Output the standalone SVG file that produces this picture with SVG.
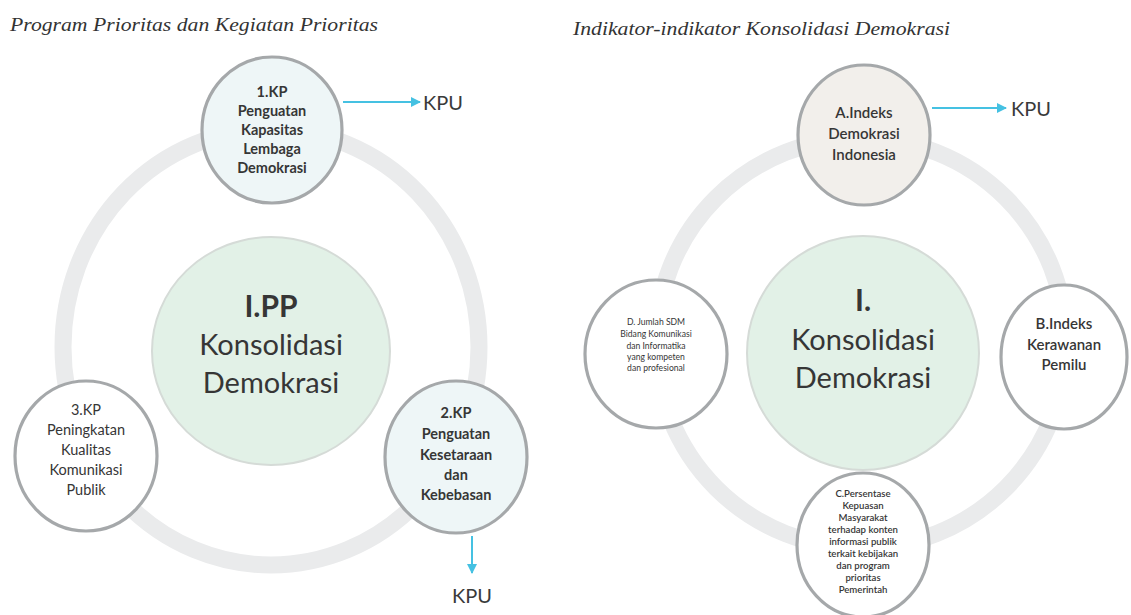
<svg xmlns="http://www.w3.org/2000/svg" width="1131" height="615" viewBox="0 0 1131 615">
<defs>
<marker id="ah" viewBox="0 0 10 10" refX="9" refY="5" markerWidth="6" markerHeight="5" orient="auto" markerUnits="strokeWidth">
<path d="M0,0 L10,5 L0,10 z" fill="#45c1e2"/>
</marker>
</defs>
<style>
.title{font-family:"Liberation Serif","DejaVu Serif",serif;font-style:italic;font-size:19.5px;fill:#333;}
.ring{fill:none;stroke:#eaebec;stroke-width:17;}
.core{fill:#e2f1e7;stroke:#d5dbd7;stroke-width:2;}
.node{stroke:#a5a8aa;stroke-width:3.2;}
.t{font-family:Lato,"Liberation Sans",sans-serif;fill:#363636;text-anchor:middle;}
.big{font-size:29px;}
.bigb{font-size:30px;font-weight:bold;}
.nb{font-size:14.5px;font-weight:bold;}
.nr{font-size:14.5px;}
.ns{font-size:15px;font-weight:600;}
.sm{font-size:8.6px;}
.smb{font-size:9.6px;font-weight:600;}
.kpu{font-family:Lato,"Liberation Sans",sans-serif;font-size:20px;fill:#3a3a3a;}
.arr{stroke:#45c1e2;stroke-width:2;fill:none;}
</style>
<rect width="1131" height="615" fill="#ffffff"/>

<text class="title" x="10" y="31" textLength="368" lengthAdjust="spacingAndGlyphs">Program Prioritas dan Kegiatan Prioritas</text>
<text class="title" x="573" y="35" textLength="377" lengthAdjust="spacingAndGlyphs">Indikator-indikator Konsolidasi Demokrasi</text>

<g id="rings">
<ellipse class="ring" cx="271" cy="347" rx="208" ry="218"/>
<ellipse class="ring" cx="861" cy="343" rx="205" ry="205"/>
</g>

<g id="connectors">
<line class="arr" x1="343" y1="102" x2="420" y2="102" marker-end="url(#ah)"/>
<line class="arr" x1="472" y1="536" x2="472" y2="573" marker-end="url(#ah)"/>
<line class="arr" x1="932" y1="108" x2="1006" y2="108" marker-end="url(#ah)"/>
</g>

<g id="pp-core">
<ellipse class="core" cx="271" cy="351" rx="119" ry="114"/>
<text class="t bigb" x="271" y="317">I.PP</text>
<text class="t big" x="271" y="355">Konsolidasi</text>
<text class="t big" x="271" y="393">Demokrasi</text>
</g>

<g id="kp1">
<ellipse class="node" cx="272" cy="130" rx="70" ry="73" fill="#eef6f7"/>
<text class="t nb" x="272" y="97">1.KP</text>
<text class="t nb" x="272" y="116">Penguatan</text>
<text class="t nb" x="272" y="135">Kapasitas</text>
<text class="t nb" x="272" y="154">Lembaga</text>
<text class="t nb" x="272" y="173">Demokrasi</text>
</g>

<g id="kp3">
<ellipse class="node" cx="86" cy="456" rx="71" ry="75" fill="#ffffff"/>
<text class="t nr" x="86" y="415">3.KP</text>
<text class="t nr" x="86" y="435">Peningkatan</text>
<text class="t nr" x="86" y="455">Kualitas</text>
<text class="t nr" x="86" y="475">Komunikasi</text>
<text class="t nr" x="86" y="495">Publik</text>
</g>

<g id="kp2">
<ellipse class="node" cx="456" cy="457" rx="71" ry="76" fill="#eef6f7"/>
<text class="t nb" x="456" y="418">2.KP</text>
<text class="t nb" x="456" y="439">Penguatan</text>
<text class="t nb" x="456" y="460">Kesetaraan</text>
<text class="t nb" x="456" y="480">dan</text>
<text class="t nb" x="456" y="500">Kebebasan</text>
</g>

<g id="kpu-labels">
<text class="kpu" x="423" y="110">KPU</text>
<text class="kpu" x="452" y="603">KPU</text>
<text class="kpu" x="1011" y="116">KPU</text>
</g>

<g id="kd-core">
<ellipse class="core" cx="863" cy="353" rx="116" ry="117"/>
<text class="t bigb" x="863" y="311">I.</text>
<text class="t big" x="863" y="350">Konsolidasi</text>
<text class="t big" x="863" y="388">Demokrasi</text>
</g>

<g id="ind-a">
<ellipse class="node" cx="864" cy="135" rx="66" ry="70" fill="#f2efeb"/>
<text class="t ns" x="864" y="118">A.Indeks</text>
<text class="t ns" x="864" y="139">Demokrasi</text>
<text class="t ns" x="864" y="160">Indonesia</text>
</g>

<g id="ind-d">
<ellipse class="node" cx="656" cy="354" rx="71" ry="74" fill="#ffffff"/>
<text class="t sm" x="656" y="325">D. Jumlah SDM</text>
<text class="t sm" x="656" y="337">Bidang Komunikasi</text>
<text class="t sm" x="656" y="349">dan Informatika</text>
<text class="t sm" x="656" y="360">yang kompeten</text>
<text class="t sm" x="656" y="371">dan profesional</text>
</g>

<g id="ind-b">
<ellipse class="node" cx="1064" cy="357" rx="63" ry="72" fill="#ffffff"/>
<text class="t ns" x="1064" y="329">B.Indeks</text>
<text class="t ns" x="1064" y="350">Kerawanan</text>
<text class="t ns" x="1064" y="370">Pemilu</text>
</g>

<g id="ind-c">
<ellipse class="node" cx="863" cy="545" rx="66" ry="72" fill="#ffffff"/>
<text class="t smb" x="863" y="497">C.Persentase</text>
<text class="t smb" x="863" y="509">Kepuasan</text>
<text class="t smb" x="863" y="521">Masyarakat</text>
<text class="t smb" x="863" y="533">terhadap konten</text>
<text class="t smb" x="863" y="545">informasi publik</text>
<text class="t smb" x="863" y="557">terkait kebijakan</text>
<text class="t smb" x="863" y="569">dan program</text>
<text class="t smb" x="863" y="581">prioritas</text>
<text class="t smb" x="863" y="593">Pemerintah</text>
</g>
</svg>
